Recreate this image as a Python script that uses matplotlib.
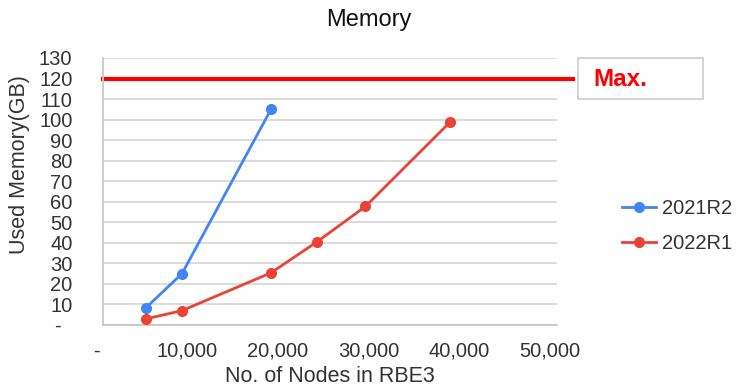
import matplotlib.pyplot as plt
import matplotlib.transforms as mtransforms
from matplotlib.patches import Rectangle

plt.rcParams['font.family'] = ['Liberation Sans', 'DejaVu Sans']

# memory use per release, by node count in the RBE3
nodes_2021r2 = [4700, 8700, 18500]
mem_2021r2 = [8.3, 25, 105]
nodes_2022r1 = [4750, 8700, 18500, 23600, 28900, 38200]
mem_2022r1 = [3, 7, 25.4, 40.6, 57.7, 98.7]
max_mem = 120

x_ticks = [0, 10000, 20000, 30000, 40000, 50000]
x_labels = ['-', '10,000', '20,000', '30,000', '40,000', '50,000']
y_ticks = list(range(0, 131, 10))
y_labels = ['-  '] + [str(v) for v in y_ticks[1:]]

BLUE = '#4285F4'
RED = '#EA4335'
W, H = 738, 392

fig = plt.figure(figsize=(W / 100, H / 100), dpi=100)
ax = fig.add_axes([103 / W, 67 / H, 454 / W, 267 / H])

ax.plot(nodes_2021r2, mem_2021r2, color=BLUE, lw=2, marker='o', ms=7,
        label='2021R2', zorder=3)
ax.plot(nodes_2022r1, mem_2022r1, color=RED, lw=2, marker='o', ms=7,
        label='2022R1', zorder=3)
ax.axhline(max_mem, xmin=0, xmax=470 / 454, color='#FF0000', lw=3,
           clip_on=False, zorder=2)

ax.set_xlim(0, 50000)
ax.set_ylim(0, 130)
ax.set_xticks(x_ticks)
ax.set_xticklabels(x_labels)
ax.set_yticks(y_ticks)
ax.set_yticklabels(y_labels)
ax.tick_params(length=0, labelsize=14.5, labelcolor='#333333')
ax.tick_params(axis='y', pad=22)
ax.tick_params(axis='x', pad=12)
# labels sit a little left of their ticks
shift = mtransforms.ScaledTranslation(-7 / 100, 0, fig.dpi_scale_trans)
for lab in ax.get_xticklabels():
    lab.set_transform(lab.get_transform() + shift)

ax.grid(axis='y', color='#d9d9d9', lw=1.3)
ax.set_axisbelow(True)
for side in ['top', 'right']:
    ax.spines[side].set_visible(False)
for side in ['left', 'bottom']:
    ax.spines[side].set_color('#c8c8c8')
    ax.spines[side].set_linewidth(1.3)

fig.text(369 / W, 1 - 20 / H, 'Memory', ha='center', va='center',
         fontsize=17, fontweight='medium', color='#111111')
fig.text(330 / W, 1 - 377 / H, 'No. of Nodes in RBE3', ha='center',
         va='center', fontsize=15.5, color='#333333')
fig.text(20 / W, 1 - 165 / H, 'Used Memory(GB)', ha='center', va='center',
         rotation=90, fontsize=15.5, color='#333333')

# "Max." callout box next to the limit line
fig.patches.append(Rectangle((578 / W, 1 - 99 / H), 125 / W, 41 / H,
                             transform=fig.transFigure, facecolor='white',
                             edgecolor='#cccccc', lw=1.2))
fig.text(593 / W, 1 - 79 / H, 'Max.', ha='left', va='center',
         fontsize=17.5, fontweight='bold', color='#FF0000')

fig.legend(loc='center left', bbox_to_anchor=(622 / W, 1 - 226 / H),
           frameon=False, borderpad=0, borderaxespad=0, fontsize=14.5,
           handlelength=1.7, handletextpad=0.3, labelspacing=0.75,
           labelcolor='#333333')

fig.savefig('out.png', dpi=100)
